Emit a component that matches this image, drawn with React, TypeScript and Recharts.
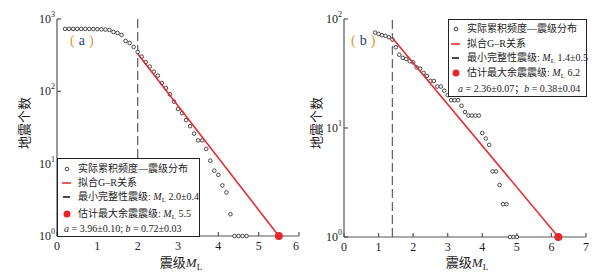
import React from 'react';
import { ScatterChart, Scatter, XAxis, YAxis, ReferenceLine } from 'recharts';

const FONT = "'Liberation Serif', 'Noto Sans CJK SC', serif";
const RED = '#e8252a';

// panel (a): magnitude bins and cumulative counts
const magA = [0.2, 0.3, 0.4, 0.5, 0.6, 0.7, 0.8, 0.9, 1.0, 1.1, 1.2, 1.3, 1.4, 1.5, 1.6, 1.7, 1.8, 1.9, 2.0,
  2.1, 2.2, 2.3, 2.4, 2.5, 2.6, 2.7, 2.8, 2.9, 3.0, 3.1, 3.2, 3.3, 3.4, 3.5, 3.6, 3.7, 3.8, 3.9, 4.0,
  4.1, 4.2, 4.3, 4.4, 4.5, 4.6, 4.7];
const countA = [730, 730, 730, 730, 730, 730, 728, 726, 724, 720, 715, 705, 661, 641, 602, 497, 466, 411, 350,
  302, 253, 220, 187, 165, 130, 111, 91, 72, 57, 50, 40, 33, 26, 21, 21, 16, 11, 8, 7,
  5, 4, 2, 1, 1, 1, 1];
const fitA = [{ m: 2.0, n: 331 }, { m: 5.5, n: 1 }];
const maxA = [{ m: 5.5, n: 1 }];
const mcA = 2.0;

// panel (b)
const magB = [0.9, 1.0, 1.1, 1.2, 1.3, 1.4, 1.5, 1.6, 1.7, 1.8, 1.9, 2.0, 2.1, 2.2, 2.3, 2.4, 2.5, 2.6, 2.7, 2.8,
  2.9, 3.0, 3.1, 3.2, 3.3, 3.4, 3.5, 3.6, 3.7, 3.8, 3.9, 4.0, 4.1, 4.2, 4.3, 4.4, 4.5, 4.6, 4.7, 4.8, 4.9, 5.0];
const countB = [75, 73, 71, 70, 68, 65, 55, 47, 44, 43, 41, 40, 36, 35, 32, 30, 27, 27, 24, 24,
  22, 20, 18, 18, 18, 16, 14, 13, 13, 13, 13, 9, 8, 7, 4, 4, 3, 2, 2, 1, 1, 1];
const fitB = [{ m: 1.4, n: 67 }, { m: 6.2, n: 1 }];
const maxB = [{ m: 6.2, n: 1 }];
const mcB = 1.4;

const ticksXA = [0, 1, 2, 3, 4, 5, 6];
const ticksXB = [0, 1, 2, 3, 4, 5, 6, 7];
const ticksYA = [1, 10, 100, 1000];
const ticksYB = [1, 10, 100];

const pointsA = magA.map((m, i) => ({ m, n: countA[i] }));
const pointsB = magB.map((m, i) => ({ m, n: countB[i] }));

const XTick = ({ x, y, payload }: any) => (
  <text x={x} y={y} dy={4} textAnchor="middle" fontSize={12} fontFamily={FONT} fill="#222">
    {payload.value}
  </text>
);

const PowTick = ({ x, y, payload }: any) => (
  <text x={x} y={y} textAnchor="end" fontSize={12} fontFamily={FONT} fill="#222">
    <tspan dy={4}>10</tspan>
    <tspan dy={-6} fontSize={8}>{Math.round(Math.log10(payload.value))}</tspan>
  </text>
);

const OpenDot = (p: any) => (
  <circle cx={p.cx} cy={p.cy} r={1.8} fill="#fff" stroke="#333" strokeWidth={0.9} />
);
const RedDot = (p: any) => <circle cx={p.cx} cy={p.cy} r={4} fill={RED} />;
const NoDot = () => <g />;

const axisStroke = { stroke: '#555', strokeWidth: 1.2 };

function Panel({ points, fit, maxPt, mc, xMax, xTicks, yMax, yTicks, margin }: any) {
  return (
    <ScatterChart width={300} height={274} margin={margin}>
      <XAxis dataKey="m" type="number" domain={[0, xMax]} ticks={xTicks} tick={<XTick />}
        tickSize={-4} tickMargin={14} height={25} axisLine={axisStroke} tickLine={axisStroke} />
      <XAxis xAxisId="top" orientation="top" type="number" domain={[0, xMax]} ticks={xTicks} tick={false}
        tickSize={-4} height={0} axisLine={axisStroke} tickLine={axisStroke} />
      <YAxis dataKey="n" type="number" scale="log" domain={[1, yMax]} ticks={yTicks} tick={<PowTick />}
        tickSize={-4} tickMargin={6} width={40} axisLine={axisStroke} tickLine={axisStroke} />
      <YAxis yAxisId="right" orientation="right" type="number" scale="log" domain={[1, yMax]} ticks={yTicks}
        tick={false} tickSize={-4} width={0} axisLine={axisStroke} tickLine={axisStroke} />
      <ReferenceLine x={mc} stroke="#666" strokeWidth={1.3} strokeDasharray="9 4" />
      <Scatter data={points} shape={OpenDot} isAnimationActive={false} />
      <Scatter data={fit} line={{ stroke: RED, strokeWidth: 1.5 }} shape={NoDot} isAnimationActive={false} />
      <Scatter data={maxPt} shape={RedDot} isAnimationActive={false} />
    </ScatterChart>
  );
}

const ML = () => (
  <span><i>M</i><sub style={{ fontSize: '0.7em', verticalAlign: '-0.25em' }}>L</sub></span>
);

function LegendBox({ left, top, width, height, rows, mx, tx, fx, mc, mmax, ab }: any) {
  const row = (cy: number, x: number) => ({
    position: 'absolute' as const, left: x, top: cy - 7, lineHeight: '14px', whiteSpace: 'nowrap' as const,
  });
  const mark = (cy: number) => ({ position: 'absolute' as const, left: mx - 6, top: cy - 6 });
  return (
    <div style={{
      position: 'absolute', left, top, width, height, background: '#fff', border: '1px solid #222',
      boxSizing: 'border-box', fontSize: 10, color: '#222',
    }}>
      <svg width={12} height={12} style={mark(rows[0])}><circle cx={6} cy={6} r={1.8} fill="none" stroke="#333" strokeWidth={0.9} /></svg>
      <div style={row(rows[0], tx)}>实际累积频度—震级分布</div>
      <svg width={12} height={12} style={mark(rows[1])}><line x1={1} x2={10} y1={6} y2={6} stroke={RED} strokeWidth={1.5} /></svg>
      <div style={row(rows[1], tx)}>拟合G–R关系</div>
      <svg width={12} height={12} style={mark(rows[2])}><line x1={2} x2={9} y1={6} y2={6} stroke="#333" strokeWidth={1.8} /></svg>
      <div style={row(rows[2], tx)}>最小完整性震级: <ML /> {mc}</div>
      <svg width={12} height={12} style={mark(rows[3])}><circle cx={6} cy={6} r={3.5} fill={RED} /></svg>
      <div style={row(rows[3], tx)}>估计最大余震震级: <ML /> {mmax}</div>
      <div style={row(rows[4], fx)}>{ab}</div>
    </div>
  );
}

const PanelTag = ({ left, letter }: any) => (
  <div style={{ position: 'absolute', left, top: 32, fontSize: 14, lineHeight: '18px', whiteSpace: 'nowrap' }}>
    <span style={{ color: '#e09530' }}>(</span>
    <span style={{ color: '#1f3c7c', margin: '0 4px' }}>{letter}</span>
    <span style={{ color: '#e09530' }}>)</span>
  </div>
);

const YTitle = ({ cx }: any) => (
  <div style={{ position: 'absolute', left: cx, top: 123, width: 0, height: 0 }}>
    <div style={{
      position: 'absolute', left: 0, top: 0, transform: 'translate(-50%, -50%) rotate(-90deg)',
      fontSize: 13, whiteSpace: 'nowrap', color: '#222',
    }}>地震个数</div>
  </div>
);

const XTitle = ({ cx }: any) => (
  <div style={{
    position: 'absolute', left: cx, top: 262, transform: 'translate(-50%, -50%)', fontSize: 13,
    whiteSpace: 'nowrap', color: '#222',
  }}>震级<ML /></div>
);

export default function App() {
  return (
    <div style={{ position: 'absolute', left: 0, top: 0, width: 608, height: 274, background: '#fff', fontFamily: FONT }}>
      <div style={{ position: 'absolute', left: 0, top: 0 }}>
        <Panel points={pointsA} fit={fitA} maxPt={maxA} mc={mcA} xMax={6} xTicks={ticksXA} yMax={1000} yTicks={ticksYA}
          margin={{ top: 19, right: 1, bottom: 13, left: 17 }} />
      </div>
      <div style={{ position: 'absolute', left: 300, top: 0 }}>
        <Panel points={pointsB} fit={fitB} maxPt={maxB} mc={mcB} xMax={7} xTicks={ticksXB} yMax={100} yTicks={ticksYB}
          margin={{ top: 19, right: 14, bottom: 12, left: 4 }} />
      </div>
      <PanelTag left={70} letter="a" />
      <PanelTag left={351} letter="b" />
      <LegendBox left={57} top={158} width={143} height={79} rows={[10, 24, 38, 55, 70]} mx={9} tx={20} fx={6}
        mc="2.0±0.4" mmax="5.5" ab={<span><i>a</i> = 3.96±0.10; <i>b</i> = 0.72±0.03</span>} />
      <LegendBox left={448} top={19} width={139} height={78} rows={[9, 24, 38, 53, 69]} mx={7} tx={18} fx={9}
        mc="1.4±0.5" mmax="6.2" ab={<span><i>a</i> = 2.36±0.07；<i>b</i> = 0.38±0.04</span>} />
      <YTitle cx={23} />
      <YTitle cx={315} />
      <XTitle cx={181} />
      <XTitle cx={467} />
    </div>
  );
}
